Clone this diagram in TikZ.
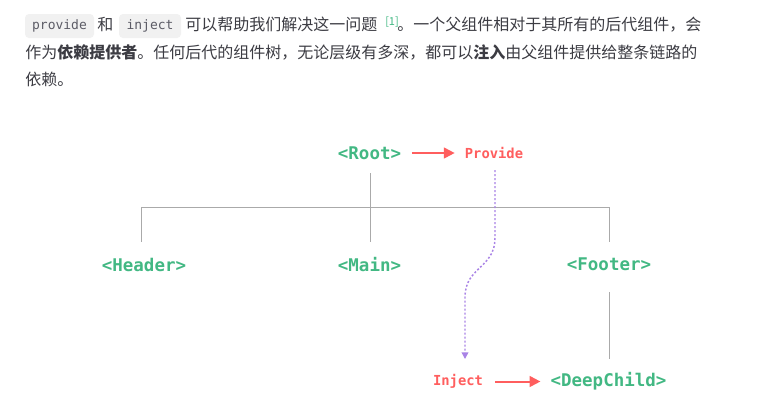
\documentclass[tikz,border=0pt]{standalone}
\usepackage{fontspec}
\setmonofont{DejaVu Sans Mono}
\newfontfamily\cjk{Noto Sans CJK SC}
\usetikzlibrary{calc,arrows.meta}
\definecolor{vgreen}{HTML}{42B883}
\definecolor{vred}{HTML}{FF5E5E}
\definecolor{vpurple}{HTML}{A983E6}
\definecolor{treegray}{HTML}{AAAAAA}
\definecolor{bodytext}{HTML}{3C3C43}
\definecolor{codebg}{HTML}{F1F1F1}
\definecolor{codetext}{HTML}{5C5C66}
\begin{document}
\begin{tikzpicture}[x=0.75pt,y=-0.75pt,
 para/.style={anchor=base west,inner sep=0,text=bodytext,font=\cjk\fontsize{12}{14}\selectfont},
 pill/.style={fill=codebg,rounded corners=3pt,draw=none,inner sep=0,minimum height=18pt,
   text=codetext,text height=0.76em,text depth=0.24em,font=\ttfamily\fontsize{9.75}{12}\selectfont},
 sup/.style={anchor=base west,inner sep=0,text=vgreen,font=\cjk\fontsize{8.25}{10}\selectfont},
 comp/.style={inner sep=0,text=vgreen,font=\ttfamily\bfseries\fontsize{13.1}{15}\selectfont},
 act/.style={inner sep=0,text=vred,font=\ttfamily\bfseries\fontsize{10.35}{12}\selectfont},
 tree/.style={draw=treegray,line width=0.75pt},
 redarrow/.style={draw=vred,line width=1.5pt,-{Triangle[length=8pt,width=8pt]}},
 flow/.style={draw=vpurple,line width=1.1pt,dash pattern=on 1.5pt off 1.5pt,-{Triangle[length=5pt,width=5pt]}}
]
\useasboundingbox[fill=white] (0,0) rectangle (780,408);

% paragraph
\node[pill,minimum width=51.75pt] (pprov) at (59.5,26) {provide};
\node[para] (t1a) at (97,30.5) {和};
\node[pill,minimum width=46.5pt] (pinj) at (150,26) {inject};
\node[para] (t1b) at (185,30.5) {可以帮助我们解决这一问题};
\node[sup] (ref) at (385,25) {[1]};
\node[para] (t1c) at (397,30.5) {。一个父组件相对于其所有的后代组件，会};
\node[para] (t2) at (25,58) {作为\textbf{依赖提供者}。任何后代的组件树，无论层级有多深，都可以\textbf{注入}由父组件提供给整条链路的};
\node[para] (t3) at (25,85.5) {依赖。};

% diagram nodes
\node[comp] (root) at (369.5,153) {<Root>};
\node[act] (provide) at (494,153) {Provide};
\node[comp] (header) at (144,264.5) {<Header>};
\node[comp] (main) at (369.5,264.5) {<Main>};
\node[comp] (footer) at (609,264.5) {<Footer>};
\node[act] (inject) at (458,381.5) {Inject};
\node[comp] (deep) at (608.5,381.5) {<DeepChild>};

% red arrows
\draw[redarrow,shorten <=8pt,shorten >=7.5pt] (root.east) -- (provide.west);
\draw[redarrow,shorten <=9pt,shorten >=7.5pt] (inject.east) -- (deep.west);

% tree
\coordinate (hl) at (141,207);
\coordinate (hr) at (609,207);
\draw[tree] (hl) -- (hr);
\draw[tree] (hl) -- ++(0,35);
\draw[tree] (hr) -- ++(0,35);
\draw[tree] ($(root)+(0.5,20)$) -- ($(main)+(0.5,-22.5)$);
\draw[tree] ($(footer)+(0,27.5)$) -- ($(deep)+(0.5,-22.5)$);

% injection flow
\draw[flow] ($(provide)+(1,17)$) -- ++(0,68) .. controls ++(0,30) and ++(0,-30) .. ($(inject)+(7,-84.5)$) -- ($(inject)+(7,-22.5)$);
\end{tikzpicture}
\end{document}
